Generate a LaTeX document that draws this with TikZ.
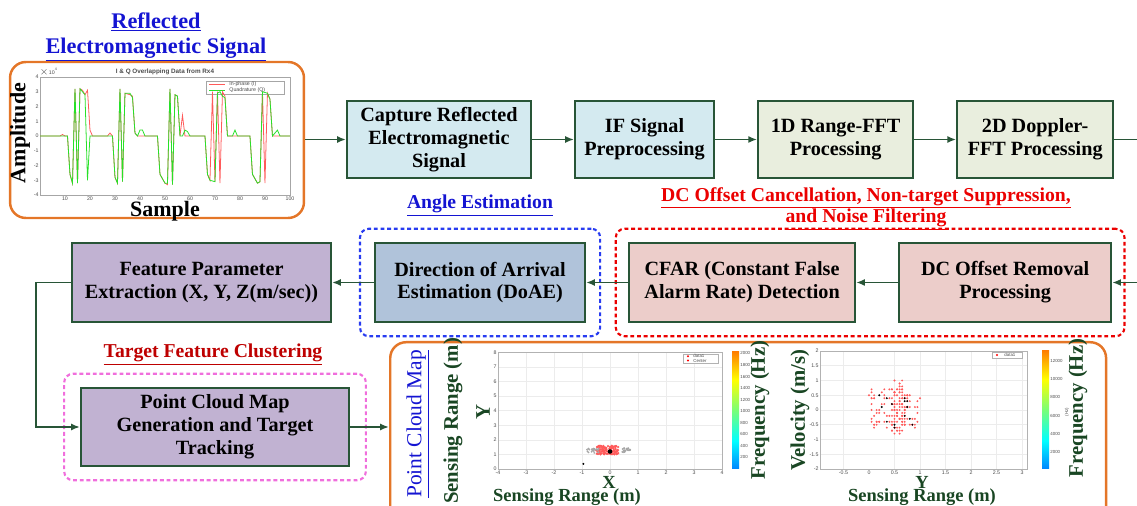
\documentclass[tikz,border=0pt]{standalone}
\usepackage{fontspec}
\setmainfont{Liberation Serif}
\newfontfamily\plotfont{Liberation Sans}
\usetikzlibrary{arrows.meta, positioning, fit}
\definecolor{flowLine}{RGB}{40,85,55}
\definecolor{capFill}{RGB}{212,234,240}
\definecolor{fftFill}{RGB}{233,238,222}
\definecolor{featFill}{RGB}{193,178,210}
\definecolor{doaFill}{RGB}{176,195,218}
\definecolor{dcFill}{RGB}{236,205,202}
\definecolor{plotOrange}{RGB}{228,118,40}
\definecolor{titleBlue}{RGB}{20,20,210}
\definecolor{titleRed}{RGB}{235,0,0}
\definecolor{clusterRed}{RGB}{190,0,0}
\definecolor{axisGreen}{RGB}{25,70,35}
\definecolor{groupPink}{RGB}{240,110,220}
\definecolor{groupBlue}{RGB}{40,60,240}
\definecolor{sigRed}{RGB}{255,90,90}
\definecolor{sigGreen}{RGB}{40,225,40}
\definecolor{jetLow}{RGB}{0,0,130}
\definecolor{jetMid}{RGB}{120,255,120}
\definecolor{jetHigh}{RGB}{130,0,0}
\pgfdeclareverticalshading{jetmap}{100bp}{color(0bp)=(jetLow); color(12bp)=(blue); color(37bp)=(cyan); color(50bp)=(jetMid); color(63bp)=(yellow); color(87bp)=(red); color(100bp)=(jetHigh)}

\begin{document}
\begin{tikzpicture}[
    x=0.02cm, y=-0.02cm,
    node distance=0.84cm,
    block/.style={draw=flowLine, line width=1.2pt, minimum height=1.55cm, align=center, font=\fontsize{11.5}{13}\selectfont\bfseries},
    frame/.style={draw=plotOrange, line width=1.4pt, rounded corners=9pt},
    group/.style={dash pattern=on 2.2pt off 1.6pt, line width=1.2pt, rounded corners=5pt},
    grouptitle/.style={align=center, inner sep=1pt, font=\fontsize{11.2}{12.5}\selectfont\bfseries},
    axlabel/.style={text=axisGreen, inner sep=0pt, font=\fontsize{11.8}{13}\selectfont\bfseries},
    bottomlabel/.style={text=axisGreen, inner sep=0pt, font=\fontsize{10.5}{11.5}\selectfont\bfseries},
    blacklabel/.style={inner sep=0pt, font=\fontsize{12.5}{14}\selectfont\bfseries},
    ticklabel/.style={text=black!70, inner sep=0.6pt, font=\plotfont\fontsize{3}{3.5}\selectfont},
    arrow/.style={-{Latex[length=5pt, width=4pt]}, line width=1.1pt, draw=flowLine}
]
    \useasboundingbox (0,0) rectangle (1137,506);
    \clip (0,0) rectangle (1137,506);

    % reflected signal plot
    \node[frame, minimum width=5.88cm, minimum height=3.12cm] (sigframe) at (157,140) {};
    \node[grouptitle, text=titleBlue, font=\fontsize{12.7}{14.3}\selectfont\bfseries] (sigtitle) at (156,37) {\underline{Reflected}\\\underline{Electromagnetic Signal}};
    \draw[gray!70, line width=0.3pt] (40,77) rectangle (290,195);
    \foreach \v in {-4,...,4}
        \node[ticklabel, left] at (40,{136-14.75*\v}) {\v};
    \foreach \s in {10,20,...,100}
        \node[ticklabel, below] at ({40+2.5*\s},195) {\s};
    \node[ticklabel, above right] at (38,77) {\(\times\)10\textsuperscript{4}};
    \node[ticklabel, font=\plotfont\fontsize{3.6}{4}\selectfont\bfseries] (sigplottitle) at (165,72) {I \& Q Overlapping Data from Rx4};
    \draw[gray!70, fill=white, line width=0.2pt] (206,81) rectangle (284,94);
    \draw[sigRed, line width=0.4pt] (209,84.5) -- (225,84.5);
    \node[ticklabel, right] at (228,84.5) {In-phase (I)};
    \draw[sigGreen, line width=0.4pt] (209,90.5) -- (225,90.5);
    \node[ticklabel, right] at (228,90.5) {Quadrature (Q)};
    \begin{scope}[shift={(40,136)}, x=0.05cm, y=0.295cm, line width=0.45pt]
        \draw[sigRed] plot coordinates {(0,0) (8,0) (9,0.1) (10,0) (11,0) (12,-2.6) (13,-3.2) (14,3.2) (15,-3.2) (16,3.2) (17,3.1) (18,2.8) (19,3.1) (20,0.4) (21,0) (27,0) (28,0.2) (29,0) (30,-2.8) (31,-3.2) (32,3.2) (33,-3.1) (34,2.9) (36,2.8) (37,2.7) (38,0.2) (39,0) (47,0) (48,-2.6) (50,-3.2) (51,-3.3) (52,3.2) (53,-3.3) (54,2.8) (55,2.7) (56,0) (57,1.4) (58,0) (66,0) (67,-2.6) (68,-3.0) (69,3.0) (70,-3.1) (71,3.0) (72,-3.2) (73,3.0) (74,2.7) (75,0) (84,0) (85,-2.6) (87,-3.2) (88,-3.1) (89,3.0) (90,-3.2) (91,2.9) (92,2.5) (93,0) (100,0)};
        \draw[sigGreen] plot coordinates {(0,0) (11,0) (12,-2.6) (13,-3.2) (14,3.2) (15,-3.2) (16,3.2) (17,3.0) (18,2.8) (19,-3.0) (20,0) (29,0) (30,-2.8) (31,-3.2) (32,3.2) (33,-3.1) (34,2.9) (36,2.9) (37,2.6) (38,0.2) (39,0) (40,0.4) (41,0.4) (42,0) (47,0) (48,-2.6) (50,-3.2) (51,-3.2) (52,3.2) (53,-3.3) (54,2.8) (55,2.7) (56,0) (57,0) (58,0.4) (59,0.3) (60,0) (66,0) (67,-2.6) (68,-3.0) (70,-3.1) (71,2.9) (72,3.0) (73,2.7) (74,2.6) (75,0) (77,0) (78,0.4) (79,0) (84,0) (85,-2.6) (87,-3.2) (88,-3.1) (89,3.0) (91,2.9) (92,2.5) (93,0) (95,0.4) (96,0) (100,0)};
    \end{scope}
    \node[blacklabel, rotate=90] (amplitude) at (20,133) {Amplitude};
    \node[blacklabel] (sample) at (165,211) {Sample};

    % radar processing chain
    \node[block, fill=capFill, minimum width=3.68cm] (capture) at (439,139.5) {Capture Reflected\\Electromagnetic\\Signal};
    \node[block, fill=capFill, minimum width=2.78cm, right=of capture] (ifprep) {IF Signal\\Preprocessing};
    \node[block, fill=fftFill, minimum width=3.1cm, right=of ifprep] (rangefft) {1D Range-FFT\\Processing};
    \node[block, fill=fftFill, minimum width=3.12cm, right=of rangefft] (dopplerfft) {2D Doppler-\\FFT Processing};

    \node[block, fill=featFill, minimum width=5.18cm, minimum height=1.58cm] (feature) at (201.5,282.5) {Feature Parameter\\Extraction (X, Y, Z(m/sec))};
    \node[block, fill=doaFill, minimum width=4.2cm, minimum height=1.58cm, right=of feature] (doae) {Direction of Arrival\\Estimation (DoAE)};
    \node[block, fill=dcFill, minimum width=4.52cm, minimum height=1.58cm, right=of doae] (cfar) {CFAR (Constant False\\Alarm Rate) Detection};
    \node[block, fill=dcFill, minimum width=4.24cm, minimum height=1.58cm, right=of cfar] (dcremove) {DC Offset Removal\\Processing};

    \node[block, fill=featFill, minimum width=5.36cm, minimum height=1.56cm] (pointcloud) at (215,427) {Point Cloud Map\\Generation and Target\\Tracking};

    % dotted groups
    \node[group, draw=groupBlue, fit=(doae), inner xsep=8pt, inner ysep=7.5pt] (anglegroup) {};
    \node[group, draw=titleRed, fit=(cfar)(dcremove), inner xsep=7pt, inner ysep=7.5pt] (dcgroup) {};
    \node[group, draw=groupPink, fit=(pointcloud), inner xsep=9pt, inner ysep=7.5pt] (clustergroup) {};
    \node[grouptitle, text=titleBlue] (angletitle) at (480,206) {\underline{Angle Estimation}};
    \node[grouptitle, text=titleRed] (dctitle) at (866,209) {\underline{DC Offset Cancellation, Non-target Suppression,}\\\underline{and Noise Filtering}};
    \node[grouptitle, text=clusterRed] (clustertitle) at (213,355) {\underline{Target Feature Clustering}};

    % point cloud plots
    \node[frame, minimum width=14.32cm, minimum height=4cm, anchor=north west] (cloudframe) at (389,341) {};
    \node[rotate=90, text=titleBlue, inner sep=0pt, font=\fontsize{12.2}{14}\selectfont] (maplabel) at (418,424) {\underline{Point Cloud Map}};
    \node[axlabel, rotate=90] (xyrange) at (453,421) {Sensing Range (m)};
    \node[axlabel, rotate=90] (ylabel) at (483,412) {Y};
    \foreach \g in {-3,...,3}
        \draw[gray!15, line width=0.3pt] ({610+28*\g},352) -- ({610+28*\g},469);
    \foreach \g in {1,...,7}
        \draw[gray!15, line width=0.3pt] (498,{469-14.6*\g}) -- (722,{469-14.6*\g});
    \draw[gray!60, line width=0.3pt] (498,352) rectangle (722,469);
    \foreach \g in {-4,...,4}
        \node[ticklabel, below] at ({610+28*\g},469) {\g};
    \foreach \g in {0,...,8}
        \node[ticklabel, left] at (498,{469-14.6*\g}) {\g};
    \begin{scope}[shift={(610,469)}, x=0.56cm, y=0.292cm]
        \pgfmathsetseed{5}
        \foreach \i in {1,...,110}
            \fill[sigRed] ({0.4*rand-0.1},{1.3+0.3*rand}) circle[radius=0.7pt];
        \foreach \i in {1,...,25}
            \fill[gray!70] ({-0.6+0.22*rand},{1.25+0.15*rand}) circle[radius=0.6pt];
        \foreach \i in {1,...,20}
            \fill[gray!70] ({0.62+0.18*rand},{1.3+0.15*rand}) circle[radius=0.6pt];
        \fill[black] (0,1.2) circle[radius=1.3pt];
        \fill[black] (-0.95,0.35) circle[radius=0.6pt];
    \end{scope}
    \draw[gray!60, fill=white, line width=0.2pt] (683,354) rectangle (718,363);
    \fill[red] (688,356.3) circle[radius=0.6pt];
    \node[ticklabel, right, font=\plotfont\fontsize{2.5}{3}\selectfont] at (692,356.3) {data1};
    \fill[red] (688,360.5) circle[radius=0.6pt];
    \node[ticklabel, right, font=\plotfont\fontsize{2.5}{3}\selectfont] at (692,360.5) {Center};
    \shade[shading=jetmap] (732,352) rectangle (739,469);
    \foreach \f in {200,400,...,2000}
        \node[ticklabel, right, font=\plotfont\fontsize{2.5}{3}\selectfont] at (739,{469-0.0578*\f}) {\f};
    \node[axlabel, rotate=90] (freqone) at (760,410) {Frequency (Hz)};
    \node[bottomlabel, anchor=north] (xlabel) at (609,476) {X};
    \node[bottomlabel, anchor=south] (xrange) at (567,505.5) {Sensing Range (m)};

    \node[axlabel, rotate=90] (velocity) at (800,410) {Velocity (m/s)};
    \foreach \g in {-0.5,0.5,1,1.5,2,2.5,3}
        \draw[gray!15, line width=0.3pt] ({869+51*\g},351) -- ({869+51*\g},469);
    \foreach \g in {-1.5,-1,-0.5,0,0.5,1,1.5}
        \draw[gray!15, line width=0.3pt] (820,{410-29.5*\g}) -- (1027,{410-29.5*\g});
    \draw[gray!60, line width=0.3pt] (820,351) rectangle (1027,469);
    \foreach \g in {-0.5,0,0.5,1,1.5,2,2.5,3}
        \node[ticklabel, below] at ({869+51*\g},469) {\g};
    \foreach \g in {-2,-1.5,-1,-0.5,0,0.5,1,1.5,2}
        \node[ticklabel, left] at (820,{410-29.5*\g}) {\g};
    \begin{scope}[shift={(869,410)}, x=1.02cm, y=0.59cm]
        \pgfmathsetseed{9}
        \foreach \i in {1,...,90}
            \fill[sigRed] ({0.05*round(10+10*rand)},{0.1*round(7*rand)}) circle[radius=0.6pt];
        \foreach \i in {1,...,60}
            \fill[sigRed] ({0.05*round(12+3*rand)},{0.1*round(8*rand)}) circle[radius=0.6pt];
        \foreach \i in {1,...,8}
            \fill[sigRed] ({0.05*round(12+2*rand)},{0.8+0.1*round(2*rand)}) circle[radius=0.6pt];
        \foreach \i in {1,...,14}
            \fill[black] ({0.05*round(9+10*rand)},{0.1*round(6*rand)}) circle[radius=0.6pt];
    \end{scope}
    \draw[gray!60, fill=white, line width=0.2pt] (992,352) rectangle (1022,358);
    \fill[red] (997,355) circle[radius=0.6pt];
    \node[ticklabel, right, font=\plotfont\fontsize{2.5}{3}\selectfont] at (1003,355) {data1};
    \shade[shading=jetmap] (1042,351) rectangle (1049,469);
    \foreach \f in {2000,4000,...,12000}
        \node[ticklabel, right, font=\plotfont\fontsize{2.5}{3}\selectfont] at (1049,{470.2-0.0091*\f}) {\f};
    \node[ticklabel, rotate=90, font=\plotfont\fontsize{2.5}{3}\selectfont] at (1067,412) {(Hz)};
    \node[axlabel, rotate=90] (freqtwo) at (1078,408) {Frequency (Hz)};
    \node[bottomlabel, anchor=north] (ylabeltwo) at (922,476) {Y};
    \node[bottomlabel, anchor=south] (yrange) at (922,505.5) {Sensing Range (m)};

    % connectors
    \draw[arrow] (capture.west -| sigframe.east) -- (capture.west);
    \draw[arrow] (capture) -- (ifprep);
    \draw[arrow] (ifprep) -- (rangefft);
    \draw[arrow] (rangefft) -- (dopplerfft);
    \draw[arrow] (dopplerfft.east) -- ++(45,0) |- (dcremove.east);
    \draw[arrow] (dcremove) -- (cfar);
    \draw[arrow] (cfar) -- (doae);
    \draw[arrow] (doae) -- (feature);
    \draw[arrow] (feature.west) -- ++(-35,0) |- (pointcloud.west);
    \draw[arrow] (pointcloud.east) -- (pointcloud.east -| cloudframe.west);
\end{tikzpicture}
\end{document}
